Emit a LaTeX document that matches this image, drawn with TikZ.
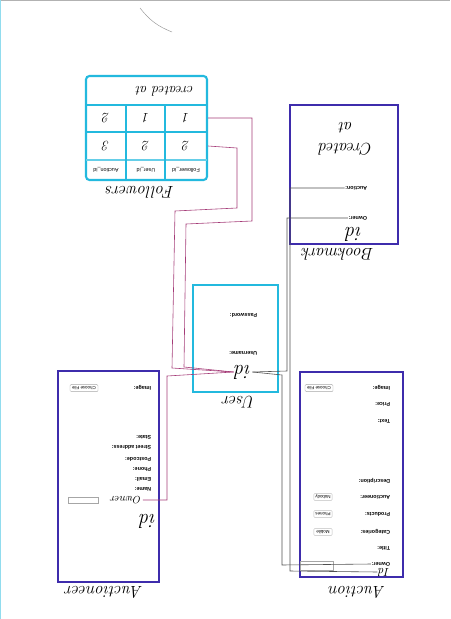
\documentclass[tikz,border=0pt]{standalone}
\usepackage{fontspec}
\setsansfont{Liberation Sans}
\usetikzlibrary{calc,positioning}
\definecolor{penBlue}{RGB}{62,44,172}
\definecolor{penCyan}{RGB}{35,185,222}
\definecolor{penPlum}{RGB}{165,60,120}
\definecolor{pencilGray}{RGB}{80,80,80}

\begin{document}
\begin{tikzpicture}[x=0.03cm,y=-0.03cm,
  ent/.style={rectangle,draw=penBlue,line width=2.2pt,inner sep=0pt},
  tbl/.style={rectangle,draw=penCyan,line width=1.8pt,inner sep=0pt},
  grid/.style={draw=penCyan,line width=0.9pt},
  hand/.style={rotate=180,font=\itshape\Large,inner sep=1pt},
  cell/.style={rotate=180,font=\itshape\large,inner sep=0.5pt},
  hdr/.style={rotate=180,font=\sffamily\fontsize{4.6}{5}\selectfont,inner sep=0.5pt},
  lbl/.style={rotate=180,font=\sffamily\bfseries\fontsize{4.6}{5}\selectfont,inner sep=0.5pt,anchor=west},
  btn/.style={rotate=180,draw=gray!70,line width=0.3pt,rounded corners=1pt,
              font=\sffamily\fontsize{3.8}{4}\selectfont,minimum width=0.84cm,minimum height=0.22cm,inner sep=0.5pt},
  fld/.style={draw=gray!70,line width=0.3pt,inner sep=0pt},
  fk/.style={draw=pencilGray,line width=0.5pt},
  fkm/.style={draw=penPlum,line width=0.5pt}
]
  \useasboundingbox (0,0) rectangle (450,619);
  \draw[gray!60,line width=0.4pt] (0,0.5) -- (450,0.5);
  \draw[penCyan!50,line width=0.6pt] (0.5,0) -- (0.5,619);
  \draw[gray!80,line width=0.4pt] (140,8) to[bend right=15] (172,32);

  \node[tbl,rounded corners=3pt,minimum width=3.63cm,minimum height=3.12cm] (fol) at (146.5,128) {};
  \draw[grid] (86,105) -- (207,105);
  \draw[grid] (86,132) -- (207,132);
  \draw[grid,penCyan!70] (86,160) -- (207,160);
  \draw[grid] (126,105) -- (126,180);
  \draw[grid] (165,105) -- (165,180);
  \node[cell] (folcreated) at (165,91) {created at};
  \node[cell] (f11) at (106,118) {2};
  \node[cell] (f12) at (146,118) {1};
  \node[cell] (f13) at (186,118) {1};
  \node[cell] (f21) at (106,146) {3};
  \node[cell] (f22) at (146,146) {2};
  \node[cell] (f23) at (186,146) {2};
  \node[hdr] (h1) at (106,170) {Auction\_id};
  \node[hdr] (h2) at (146,170) {User\_id};
  \node[hdr] (h3) at (186,170) {Follower\_id};
  \node[hand] (folname) at (140,192) {Followers};

  \node[ent,minimum width=3.24cm,minimum height=4.17cm] (bm) at (344,174.5) {};
  \node[hand,align=center] (bmcreated) at (346,139) {Created\\at};
  \node[lbl] (bmauc) at (368,188) {Auction:};
  \node[lbl] (bmowner) at (368,218) {Owner:};
  \node[hand,font=\itshape\LARGE] (bmid) at (354,234) {id};
  \node[hand] (bmname) at (338,254) {Bookmark};

  \node[tbl,line width=1.4pt,minimum width=2.55cm,minimum height=3.21cm] (usr) at (235.5,338.5) {};
  \node[lbl] (usrpass) at (258,315) {Password:};
  \node[lbl] (usrname) at (258,353) {Username:};
  \node[hand,font=\itshape\LARGE] (usrid) at (243,372) {id};
  \node[hand] (usrlabel) at (239,402) {User};

  \node[ent,minimum width=3.03cm,minimum height=6.33cm] (act) at (108.5,476.5) {};
  \node[hand,font=\itshape\LARGE] (actid) at (148,521) {id};
  \node[hand,font=\itshape\small] (actowner) at (126,500) {Owner};
  \node[fld,minimum width=0.9cm,minimum height=0.18cm] (actfield) at (83,500) {};
  \foreach \t/\y [count=\i] in {Name:/489,Email:/479,Phone:/469,Postcode:/459,Street address:/447,State:/437}
    \node[lbl] (act\i) at (152,\y) {\t};
  \node[lbl] (actimg) at (152,388) {Image:};
  \node[btn] (actfile) at (84,388) {Choose File};
  \node[hand] (actname) at (104,592) {Auctioneer};

  \node[ent,minimum width=3.09cm,minimum height=6.15cm] (auc) at (351.5,474.5) {};
  \foreach \t/\y [count=\i] in {Image:/388,Price:/404,Text:/421,Description:/481,Auctioneer:/497,Products:/514,Categories:/532,Title:/548}
    \node[lbl] (auc\i) at (391,\y) {\t};
  \node[btn] (aucfile) at (319,388) {Choose File};
  \node[btn,minimum width=0.55cm,draw=gray!50] (aucsel1) at (323,497) {Nobody};
  \node[btn,minimum width=0.55cm,draw=gray!50] (aucsel2) at (323,514) {Phones};
  \node[btn,minimum width=0.55cm,draw=gray!50] (aucsel3) at (323,532) {Mobile};
  \node[lbl] (aucowner) at (391,564) {Owner:};
  \node[fld,minimum width=0.99cm,minimum height=0.27cm] (aucfield) at (316.5,565.5) {};
  \node[hand,font=\itshape\normalsize] (aucid) at (384,572) {Id};
  \node[hand] (aucname) at (357,592) {Auction};

  \draw[fk] (bmauc.east) -- (290,188) -- (290,571) -- (aucid.east);
  \draw[fk] (bmowner.east) -- (287,218) -- (287,371) -- (usrid.west);
  \draw[fk] (aucowner.east) -- (282,565) -- (282,375) -- (usrid.west);
  \draw[fkm] (fol.east |- f13) -- (252,118) -- (252,221) -- (186,224) -- (184,367) -- (usrid.east);
  \draw[fkm] (fol.east |- f23) -- (237,148) -- (237,208) -- (175,211) -- (172,368) -- (usrid.east);
  \draw[fkm] (actowner.west) -- (167,500) -- (167,376) -- (usrid.east);
\end{tikzpicture}
\end{document}
